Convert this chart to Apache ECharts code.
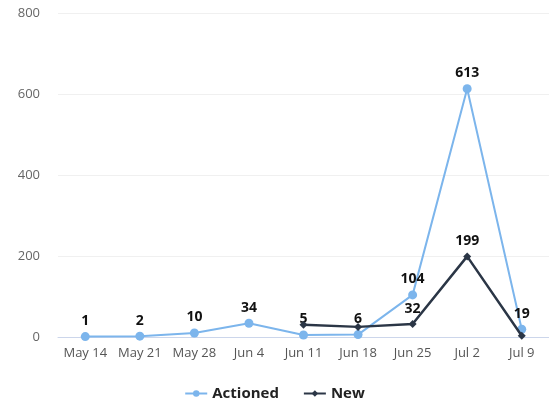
<!DOCTYPE html>
<html><head><meta charset="utf-8">
<script src="https://cdn.jsdelivr.net/npm/echarts@6/dist/echarts.min.js"></script>
<style>html,body{margin:0;padding:0;background:#fff}#c{width:549px;height:408px}</style>
</head><body><div id="c"></div>
<script>
const categories = ['May 14','May 21','May 28','Jun 4','Jun 11','Jun 18','Jun 25','Jul 2','Jul 9'];
const actioned = [1, 2, 10, 34, 5, 6, 104, 613, 19];
const newItems = [null, null, null, null, 30, 25, 32, 199, 3];
const yTicks = { min: 0, max: 800, interval: 200 };

const chart = echarts.init(document.getElementById('c'));
const labelStyle = { show: true, position: 'top', color: '#111', fontWeight: 'bold', fontSize: 14, fontFamily: 'Open Sans, sans-serif', distance: 4 };
chart.setOption({
  animation: false,
  grid: { left: 58, right: 0, top: 13, bottom: 71 },
  legend: {
    bottom: 2, left: 'center', itemGap: 24, itemWidth: 22, itemHeight: 8,
    textStyle: { fontWeight: 'bold', fontSize: 15, color: '#222', fontFamily: 'Open Sans, sans-serif' },
    data: ['Actioned', 'New']
  },
  xAxis: {
    type: 'category', data: categories, boundaryGap: true,
    axisLine: { lineStyle: { color: '#ccd6eb' } },
    axisTick: { show: false },
    axisLabel: { interval: 0, hideOverlap: false, color: '#555', fontSize: 13, fontFamily: 'Open Sans, sans-serif', margin: 10 }
  },
  yAxis: {
    type: 'value', min: yTicks.min, max: yTicks.max, interval: yTicks.interval,
    splitLine: { lineStyle: { color: '#f0f0f0' } },
    axisLabel: { color: '#666', fontSize: 13, fontFamily: 'Open Sans, sans-serif', margin: 18 }
  },
  series: [
    {
      name: 'Actioned', type: 'line', data: actioned, color: '#7cb5ec',
      symbol: 'circle', symbolSize: 9, lineStyle: { width: 2 },
      label: labelStyle, z: 2
    },
    {
      name: 'New', type: 'line', data: newItems, color: '#2b3646',
      symbol: 'diamond', symbolSize: 8, lineStyle: { width: 2.5 },
      label: Object.assign({}, labelStyle, {
        formatter: p => (p.value >= 32 ? p.value : '')
      }),
      z: 3
    }
  ]
});
</script></body></html>
